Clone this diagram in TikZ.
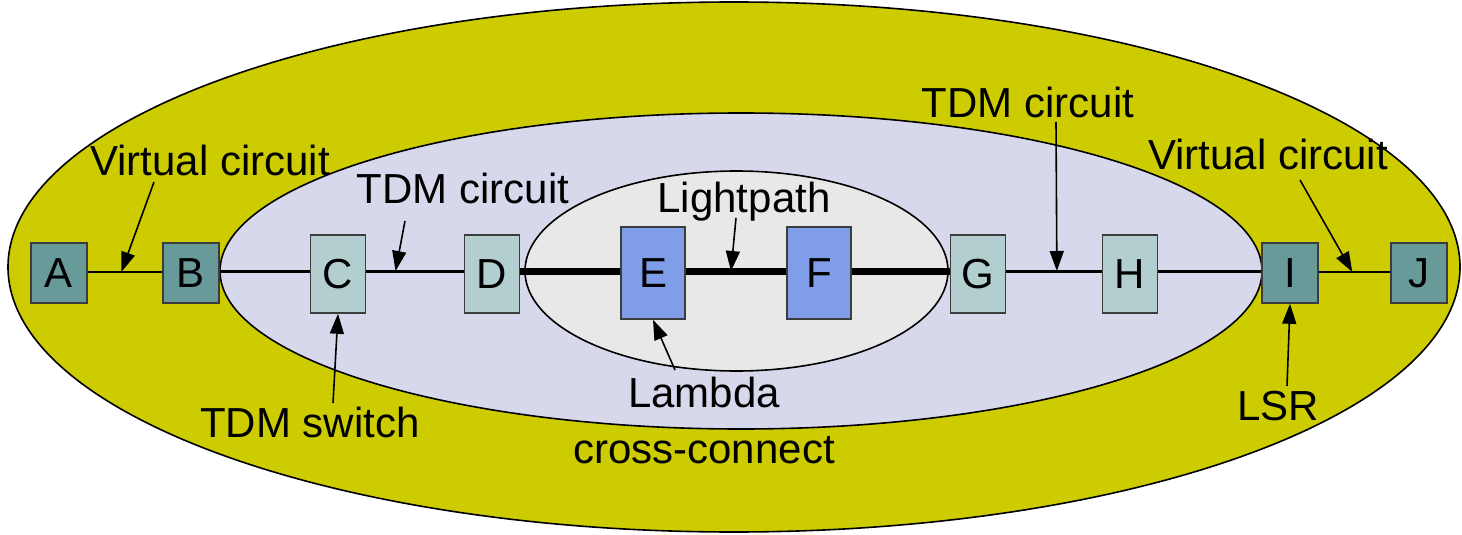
\documentclass[tikz,border=0pt]{standalone}
\usepackage{fontspec}
\setmainfont{Liberation Sans}
\usetikzlibrary{arrows.meta}
\definecolor{outerc}{RGB}{204,204,0}
\definecolor{midc}{RGB}{216,216,236}
\definecolor{innerc}{RGB}{232,232,232}
\definecolor{tealc}{RGB}{104,154,154}
\definecolor{lightc}{RGB}{179,206,206}
\definecolor{bluec}{RGB}{127,157,232}
\definecolor{edgec}{RGB}{60,60,60}
\begin{document}
\begin{tikzpicture}[x=1pt,y=-1pt,
  every node/.style={font=\fontsize{42}{56}\selectfont},
  box/.style={draw=edgec,line width=1.6pt,inner sep=0pt,anchor=center},
  sq/.style={box,fill=tealc,minimum width=56pt,minimum height=60pt},
  tall/.style={box,fill=lightc,minimum width=55pt,minimum height=78pt},
  big/.style={box,fill=bluec,minimum width=64pt,minimum height=92pt},
  ell/.style={draw=black,line width=1.6pt},
  thinl/.style={line width=1.8pt},
  medl/.style={line width=3pt},
  thickl/.style={line width=7pt},
  lbl/.style={inner sep=0pt,align=center},
  pointer/.style={line width=1.6pt,-{Triangle[length=20pt,width=14pt]}}
]
\useasboundingbox (0,0) rectangle (1462,535);
% ellipses
\draw[ell,fill=outerc] (734,267) ellipse [x radius=726,y radius=265];
\draw[ell,fill=midc] (741,271) ellipse [x radius=521,y radius=158];
\draw[ell,fill=innerc] (736.5,271) ellipse [x radius=211.5,y radius=100];
% boxes
\node[sq] (A) at (59,273) {A};
\node[sq] (B) at (191,273) {B};
\node[tall] (C) at (338,274) {C};
\node[tall] (D) at (492,274) {D};
\node[big] (E) at (653,273) {E};
\node[big] (F) at (819,273) {F};
\node[tall] (G) at (978,274) {G};
\node[tall] (H) at (1130,274) {H};
\node[sq] (I) at (1290,273) {I};
\node[sq] (J) at (1419,273) {J};
% links
\draw[thinl] (A.east |- 0,272) -- (B.west |- 0,272) coordinate[pos=0.45] (ab);
\draw[medl] (B.east |- 0,271) -- (C.west |- 0,271);
\draw[medl] (C.east |- 0,271) -- (D.west |- 0,271) coordinate[pos=0.3] (cd);
\draw[thickl] (D.east |- 0,271) -- (E.west |- 0,271);
\draw[thickl] (E.east |- 0,271) -- (F.west |- 0,271) coordinate[pos=0.45] (ef);
\draw[thickl] (F.east |- 0,271) -- (G.west |- 0,271);
\draw[medl] (G.east |- 0,271) -- (H.west |- 0,271) coordinate[pos=0.53] (gh);
\draw[medl] (H.east |- 0,271) -- (I.west |- 0,271);
\draw[thinl] (I.east |- 0,272) -- (J.west |- 0,272) coordinate[pos=0.47] (ij);
% labels
\node[lbl] (vc1) at (210,160) {Virtual circuit};
\node[lbl] (tdm1) at (463,188) {TDM circuit};
\node[lbl] (lp) at (744,202) {Lightpath};
\node[lbl] (tdm2) at (1028,102) {TDM circuit};
\node[lbl] (vc2) at (1268,154) {Virtual circuit};
\node[lbl] (sw) at (310,422) {TDM switch};
\node[lbl] (lam) at (704,420) {Lambda\\cross-connect};
\node[lbl] (lsr) at (1278,406) {LSR};
% pointers
\draw[pointer] (154,182) -- (ab);
\draw[pointer] (405,221) -- (cd);
\draw[pointer] (736,218) -- (ef);
\draw[pointer] (1056,122) -- (gh);
\draw[pointer] (1300,180) -- (ij);
\draw[pointer] (333,403) -- (C.south);
\draw[pointer] (675,370) -- (E.south);
\draw[pointer] (1287,386) -- (I.south);
\end{tikzpicture}
\end{document}
